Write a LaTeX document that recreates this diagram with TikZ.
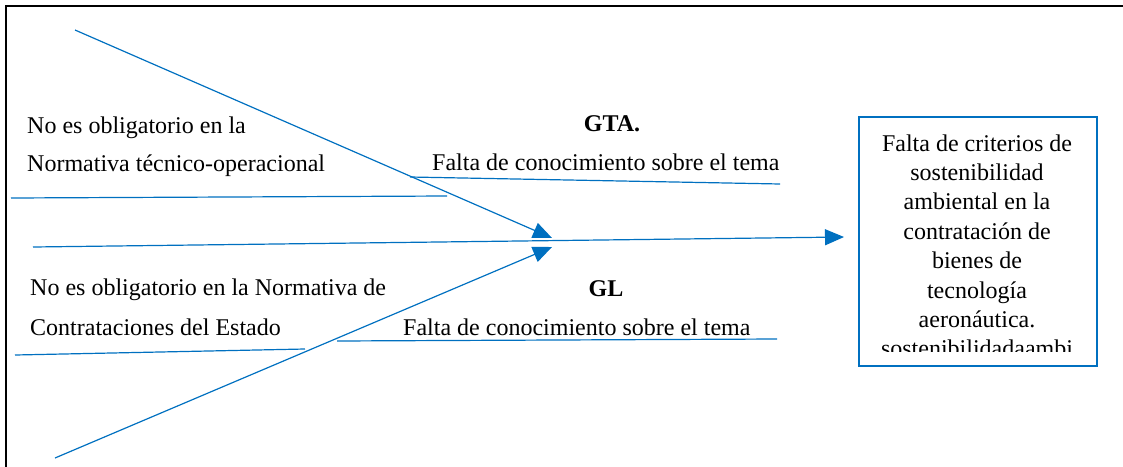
\documentclass[tikz,border=0pt]{standalone}
\usepackage{fontspec}
\setmainfont{Liberation Serif}
\usetikzlibrary{arrows.meta}
\definecolor{lineblue}{RGB}{0,112,192}
\begin{document}
\begin{tikzpicture}[x=1pt,y=-1pt,
  bone/.style={draw=lineblue,line width=1.2pt},
  arrowline/.style={bone,-{Triangle[length=19pt,width=16pt]}},
  lbl/.style={font=\fontsize{24}{28}\selectfont,inner sep=0pt,anchor=base west},
  ttl/.style={font=\fontsize{24}{28}\selectfont\bfseries,inner sep=0pt,anchor=base}]
\useasboundingbox (0,0) rectangle (1123,466);
% frame
\draw[line width=1.4pt] (6,470) -- (6,6) -- (1130,6);
% coordinates
\coordinate (u1) at (75,30);
\coordinate (l1) at (55,458);
\coordinate (h1) at (33,247);
\coordinate (tipU) at (552,238);
\coordinate (tipL) at (552,247);
\coordinate (tipH) at (844,237);
\coordinate (a1) at (11,198); \coordinate (a2) at (447,196);
\coordinate (b1) at (410,177); \coordinate (b2) at (780,184);
\coordinate (c1) at (15,355); \coordinate (c2) at (305,349);
\coordinate (d1) at (337,341); \coordinate (d2) at (777,339);
% bones
\draw[bone] (a1) -- (a2);
\draw[bone] (b1) -- (b2);
\draw[bone] (c1) -- (c2);
\draw[bone] (d1) -- (d2);
\draw[arrowline] (u1) -- (tipU);
\draw[arrowline] (l1) -- (tipL);
\draw[arrowline] (h1) -- (tipH);
% labels
\node[lbl] (t1) at (27,133) {No es obligatorio en la};
\node[lbl] (t2) at (27,171) {Normativa técnico-operacional};
\node[ttl] (gta) at (612,131) {GTA.};
\node[lbl] (t3) at (432,170) {Falta de conocimiento sobre el tema};
\node[lbl] (t4) at (30,295) {No es obligatorio en la Normativa de};
\node[lbl] (t5) at (30,335) {Contrataciones del Estado};
\node[ttl] (gl) at (606,296) {GL};
\node[lbl] (t6) at (403,335) {Falta de conocimiento sobre el tema};
% effect box
\node[draw=lineblue,line width=2.2pt,minimum width=238pt,minimum height=249pt,anchor=north west,inner sep=0pt] (box) at (858,116) {};
\begin{scope}
\clip (860,118) rectangle (1094,351);
\foreach \t [count=\i] in {Falta de criterios de,sostenibilidad,ambiental en la,contratación de,bienes de,tecnología,aeronáutica.,sostenibilidadaambi}{
  \node[font=\fontsize{24}{28}\selectfont,inner sep=0pt,anchor=base] at (977,{151+29.4*(\i-1)}) {\t};
}
\end{scope}
\end{tikzpicture}
\end{document}
